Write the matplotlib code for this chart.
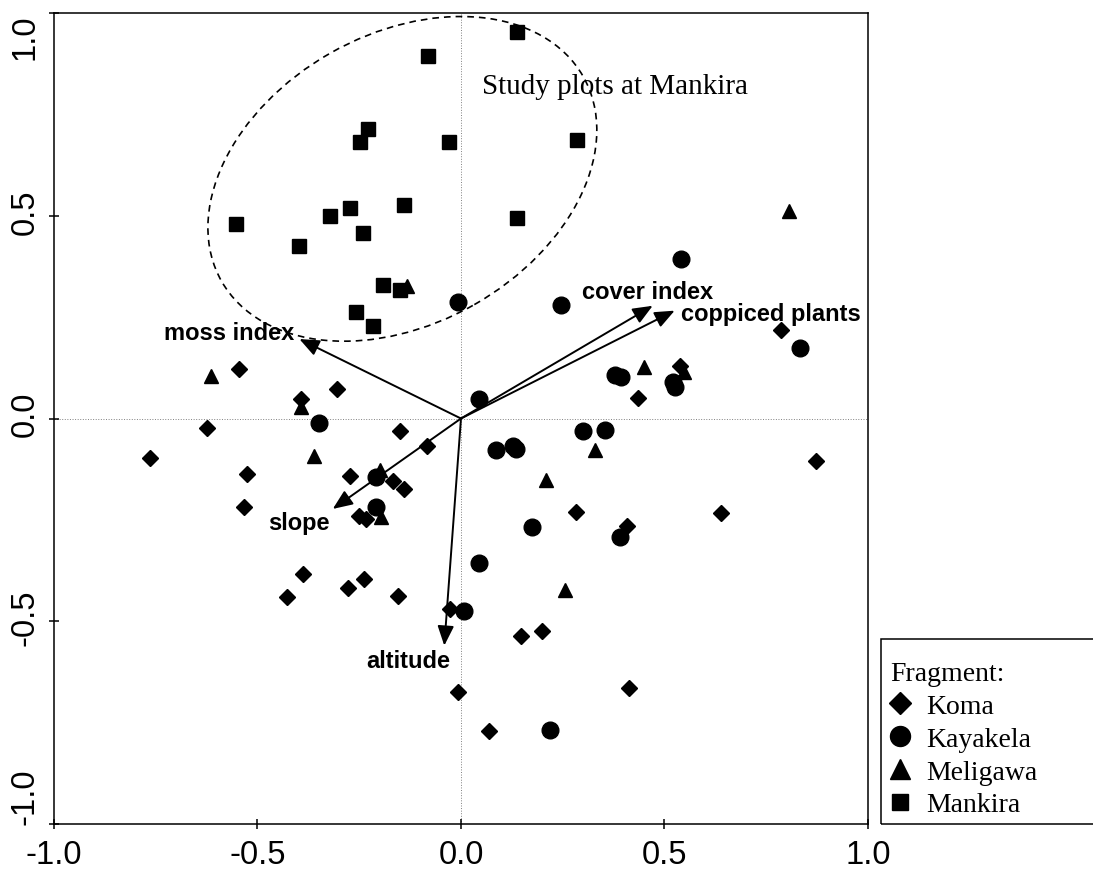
import matplotlib
matplotlib.use("Agg")
import matplotlib.pyplot as plt
from matplotlib.lines import Line2D
from matplotlib.patches import Ellipse, Rectangle
from matplotlib.transforms import ScaledTranslation

# Datos de las parcelas (coordenadas de ordenación)
koma_x = [-0.546, -0.305, -0.394, 0.787, 0.537, 0.436, -0.625, -0.151, -0.765, -0.084,
          -0.525, -0.272, -0.168, -0.140, -0.532, -0.251, -0.233, -0.389, -0.239, -0.278,
          -0.427, -0.154, 0.873, 0.283, 0.639, 0.408, -0.028, 0.148, 0.199, -0.008,
          0.414, 0.070]
koma_y = [0.122, 0.074, 0.048, 0.218, 0.130, 0.051, -0.024, -0.030, -0.097, -0.069,
          -0.137, -0.141, -0.153, -0.174, -0.219, -0.241, -0.248, -0.383, -0.396, -0.418,
          -0.439, -0.437, -0.106, -0.231, -0.234, -0.264, -0.470, -0.536, -0.525, -0.675,
          -0.665, -0.770]

kayakela_x = [-0.008, 0.246, 0.541, 0.834, 0.378, 0.394, 0.520, 0.527, 0.045, -0.350,
              -0.210, -0.210, 0.300, 0.355, 0.086, 0.129, 0.136, 0.174, 0.391, 0.045,
              0.007, 0.219]
kayakela_y = [0.288, 0.280, 0.393, 0.174, 0.108, 0.102, 0.090, 0.078, 0.048, -0.011,
              -0.143, -0.217, -0.031, -0.028, -0.077, -0.067, -0.075, -0.268, -0.293, -0.357,
              -0.474, -0.768]

meligawa_x = [-0.133, -0.613, -0.394, 0.805, 0.449, 0.549, -0.362, -0.200, -0.196, 0.330,
              0.210, 0.255]
meligawa_y = [0.326, 0.106, 0.028, 0.512, 0.126, 0.114, -0.092, -0.127, -0.244, -0.077,
              -0.152, -0.423]

mankira_x = [-0.080, -0.229, -0.247, -0.030, -0.553, -0.321, -0.272, -0.139, -0.241, -0.399,
             -0.192, -0.149, -0.258, -0.217, 0.138, 0.284, 0.138]
mankira_y = [0.893, 0.714, 0.683, 0.682, 0.480, 0.500, 0.518, 0.527, 0.457, 0.426,
             0.330, 0.318, 0.262, 0.229, 0.952, 0.687, 0.494]

# Variables ambientales (vectores)
var_nombres = ["moss index", "cover index", "coppiced plants", "slope", "altitude"]
var_x = [-0.397, 0.471, 0.525, -0.315, -0.041]
var_y = [0.196, 0.278, 0.266, -0.223, -0.560]

ticks = [-1.0, -0.5, 0.0, 0.5, 1.0]
tick_labels = ["-1.0", "-0.5", "0.0", "0.5", "1.0"]

sans = "Liberation Sans"
serif = "Liberation Serif"

fig = plt.figure(figsize=(10.93, 8.70), dpi=100)
ax = fig.add_axes([0.0494, 0.0517, 0.7447, 0.9322])

# Líneas de referencia
ax.axhline(0, color="gray", lw=0.7, ls=":", zorder=1)
ax.axvline(0, color="gray", lw=0.7, ls=":", zorder=1)

# Puntos por fragmento (nombre, x, y, marcador, tamaño, tamaño en leyenda)
estilos = [
    ("Koma", koma_x, koma_y, "D", 8.2, 10.7),
    ("Kayakela", kayakela_x, kayakela_y, "o", 12, 14.4),
    ("Meligawa", meligawa_x, meligawa_y, "^", 10.5, 14),
    ("Mankira", mankira_x, mankira_y, "s", 9.5, 11.5),
]
for nombre, xs, ys, m, ms, _ in estilos:
    ax.plot(xs, ys, ls="none", marker=m, ms=ms, color="black", zorder=3)

# Flechas
offsets = {
    "moss index": ((-3.6, 5.0), "right"),
    "cover index": ((-50.8, 10.1), "left"),
    "coppiced plants": ((4.8, -1.7), "left"),
    "slope": ((-46.3, -9.6), "left"),
    "altitude": ((-26.1, -10.8), "center"),
}
for nombre, vx, vy in zip(var_nombres, var_x, var_y):
    ax.annotate("", xy=(vx, vy), xytext=(0, 0),
                arrowprops=dict(arrowstyle="-|>,head_length=0.6,head_width=0.25",
                                mutation_scale=20, lw=1.4, color="black",
                                shrinkA=0, shrinkB=0), zorder=4)
    off, ha = offsets[nombre]
    ax.annotate(nombre, xy=(vx, vy), xytext=off, textcoords="offset points",
                ha=ha, va="center", fontsize=17, fontweight="bold",
                family=sans, zorder=5)

# Elipse de Mankira
elipse = Ellipse((-0.144, 0.591), width=1.022, height=0.714, angle=29.7,
                 fill=False, ls=(0, (4, 3)), lw=1.2, color="black", zorder=2)
ax.add_patch(elipse)
ax.text(0.052, 0.821, "Study plots at Mankira", fontsize=21, family=serif,
        ha="left", va="center")

# Ejes
ax.set_xlim(-1, 1)
ax.set_ylim(-1, 1)
ax.set_xticks(ticks)
ax.set_xticklabels(tick_labels, fontsize=23.5, family=sans)
ax.set_yticks(ticks)
ax.set_yticklabels(tick_labels, fontsize=23.5, family=sans, rotation=90, va="center")
ax.tick_params(direction="inout", length=7, width=1.1)
ax.tick_params(axis="x", pad=7.5)
ax.tick_params(axis="y", pad=6)
ylabs = ax.get_yticklabels()
ylabs[0].set_va("bottom")
ylabs[-1].set_va("top")
subir = ScaledTranslation(0, 5 / 100, fig.dpi_scale_trans)
for lab in ylabs[1:-1]:
    lab.set_transform(lab.get_transform() + subir)
for sp in ax.spines.values():
    sp.set_linewidth(1.1)

# Leyenda
handles = [Line2D([], [], ls="none", marker=m, ms=lms, color="black")
           for _, _, _, m, _, lms in estilos]
labels = [e[0] for e in estilos]
leg = fig.legend(handles, labels, loc="upper left", bbox_to_anchor=(0.8143, 0.2394),
                 frameon=False, title="Fragment:", alignment="left",
                 prop={"family": serif, "size": 20},
                 handlelength=0.74, handletextpad=0.56, labelspacing=0.27,
                 borderpad=0, borderaxespad=0)
leg.get_title().set_fontfamily(serif)
leg.get_title().set_fontsize(20)
fig.add_artist(Rectangle((0.8058, 0.0517), 0.3, 0.2127, transform=fig.transFigure,
                         fill=False, lw=1.1, color="black", clip_on=False))

plt.savefig("out.png", dpi=100)
